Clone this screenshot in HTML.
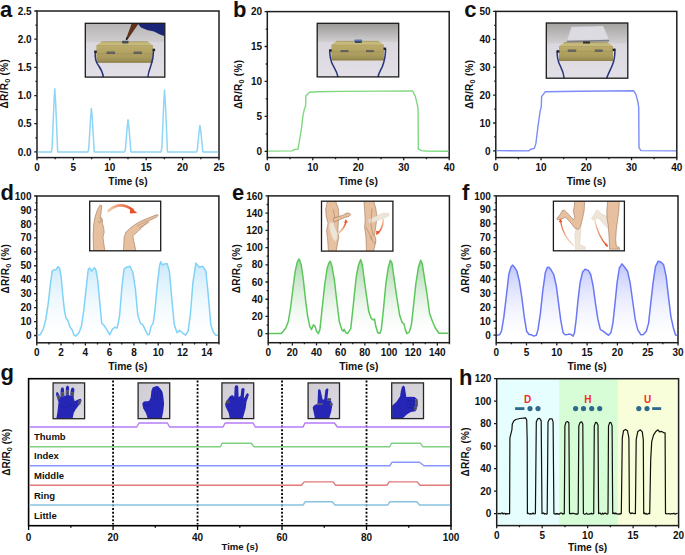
<!DOCTYPE html>
<html><head><meta charset="utf-8"><title>figure</title>
<style>
html,body{margin:0;padding:0;background:#fff;}
svg{display:block;}
text{font-family:"Liberation Sans",sans-serif;font-weight:bold;fill:#111;}
</style></head>
<body>
<svg width="685" height="555" viewBox="0 0 685 555">
<defs>
<linearGradient id="gd" x1="0" y1="0" x2="0" y2="1"><stop offset="0" stop-color="#c9e9fb"/><stop offset="1" stop-color="#ffffff" stop-opacity="0.3"/></linearGradient>
<linearGradient id="ge" x1="0" y1="0" x2="0" y2="1"><stop offset="0" stop-color="#a9d6a9"/><stop offset="1" stop-color="#ffffff" stop-opacity="0.3"/></linearGradient>
<linearGradient id="gf" x1="0" y1="0" x2="0" y2="1"><stop offset="0" stop-color="#bcc3fa"/><stop offset="1" stop-color="#ffffff" stop-opacity="0.3"/></linearGradient>
<linearGradient id="bgGray" x1="0" y1="0" x2="0" y2="1"><stop offset="0" stop-color="#c4c4c6"/><stop offset="0.45" stop-color="#dadadd"/><stop offset="1" stop-color="#e6e6ea"/></linearGradient>
<linearGradient id="gloveBg" x1="0" y1="0" x2="1" y2="1"><stop offset="0" stop-color="#cfcdd3"/><stop offset="1" stop-color="#dedce2"/></linearGradient>
<linearGradient id="woodG" x1="0" y1="0" x2="0" y2="1"><stop offset="0" stop-color="#bbac6a"/><stop offset="0.6" stop-color="#ad9e5e"/><stop offset="1" stop-color="#978952"/></linearGradient>
<linearGradient id="arrowG" x1="0" y1="0" x2="1" y2="0"><stop offset="0" stop-color="#f3c9a8"/><stop offset="1" stop-color="#e8552e"/></linearGradient>
</defs>
<rect width="685" height="555" fill="#fff"/>
<rect x="37" y="11" width="182" height="146.6" fill="none" stroke="#1e1e1e" stroke-width="1.5"/>
<path d="M37 157.6v2.7 M73.4 157.6v2.7 M109.8 157.6v2.7 M146.2 157.6v2.7 M182.6 157.6v2.7 M219 157.6v2.7 M55.2 157.6v1.6 M91.6 157.6v1.6 M128 157.6v1.6 M164.4 157.6v1.6 M200.8 157.6v1.6 M37 151.9h-2.7 M37 123.72h-2.7 M37 95.54h-2.7 M37 67.36h-2.7 M37 39.18h-2.7 M37 11h-2.7 M37 137.81h-1.6 M37 109.63h-1.6 M37 81.45h-1.6 M37 53.27h-1.6 M37 25.09h-1.6" stroke="#1e1e1e" stroke-width="1.3" fill="none"/>
<text x="37" y="170.8" text-anchor="middle" font-size="10" >0</text>
<text x="73.4" y="170.8" text-anchor="middle" font-size="10" >5</text>
<text x="109.8" y="170.8" text-anchor="middle" font-size="10" >10</text>
<text x="146.2" y="170.8" text-anchor="middle" font-size="10" >15</text>
<text x="182.6" y="170.8" text-anchor="middle" font-size="10" >20</text>
<text x="219" y="170.8" text-anchor="middle" font-size="10" >25</text>
<text x="31.7" y="155.5" text-anchor="end" font-size="10" >0.0</text>
<text x="31.7" y="127.32" text-anchor="end" font-size="10" >0.5</text>
<text x="31.7" y="99.14" text-anchor="end" font-size="10" >1.0</text>
<text x="31.7" y="70.96" text-anchor="end" font-size="10" >1.5</text>
<text x="31.7" y="42.78" text-anchor="end" font-size="10" >2.0</text>
<text x="31.7" y="14.6" text-anchor="end" font-size="10" >2.5</text>
<path d="M37.8 151.9 L51.34 151.9 L52.14 146.85 L53.89 104.56 L54.76 88.78 L55.64 102.66 L57.68 151.9 L87.96 151.9 L88.76 148.43 L90.51 119.35 L91.38 108.5 L92.26 118.05 L94.29 151.9 L124.58 151.9 L125.38 149.33 L127.13 127.81 L128 119.77 L128.87 126.84 L130.91 151.9 L161.12 151.9 L161.92 146.94 L163.67 105.4 L164.55 89.9 L165.42 103.54 L167.46 151.9 L196.5 151.9 L197.31 149.78 L199.05 132.03 L199.93 125.41 L200.8 131.24 L202.84 151.9 L218.2 151.9" fill="none" stroke="#8fd5f6" stroke-width="1.5" stroke-linejoin="round"/>
<text x="128" y="184.5" text-anchor="middle" font-size="10.3" >Time (s)</text>
<text transform="translate(7.9,83.7) rotate(-90)" text-anchor="middle" font-size="10" letter-spacing="0.3">&#916;R/R<tspan font-size="7.2" dy="2">0</tspan><tspan dy="-2"> (%)</tspan></text>
<text x="0" y="17" font-size="22">a</text>
<rect x="267.3" y="11.6" width="181.9" height="146" fill="none" stroke="#1e1e1e" stroke-width="1.5"/>
<path d="M267.3 157.6v2.7 M312.77 157.6v2.7 M358.25 157.6v2.7 M403.73 157.6v2.7 M449.2 157.6v2.7 M290.04 157.6v1.6 M335.51 157.6v1.6 M380.99 157.6v1.6 M426.46 157.6v1.6 M267.3 151.3h-2.7 M267.3 116.38h-2.7 M267.3 81.45h-2.7 M267.3 46.52h-2.7 M267.3 11.6h-2.7 M267.3 133.84h-1.6 M267.3 98.91h-1.6 M267.3 63.99h-1.6 M267.3 29.06h-1.6" stroke="#1e1e1e" stroke-width="1.3" fill="none"/>
<text x="267.3" y="170.8" text-anchor="middle" font-size="10" >0</text>
<text x="312.77" y="170.8" text-anchor="middle" font-size="10" >10</text>
<text x="358.25" y="170.8" text-anchor="middle" font-size="10" >20</text>
<text x="403.73" y="170.8" text-anchor="middle" font-size="10" >30</text>
<text x="449.2" y="170.8" text-anchor="middle" font-size="10" >40</text>
<text x="262" y="154.9" text-anchor="end" font-size="10" >0</text>
<text x="262" y="119.97" text-anchor="end" font-size="10" >5</text>
<text x="262" y="85.05" text-anchor="end" font-size="10" >10</text>
<text x="262" y="50.12" text-anchor="end" font-size="10" >15</text>
<text x="262" y="15.2" text-anchor="end" font-size="10" >20</text>
<path d="M268.1 151.1 L292.2 150.9 L294.4 149.5 L298 149.2 L299.5 140.5 L301.6 127.6 L303.1 114.6 L304.5 108.8 L305.6 105.9 L305.9 95.9 L309.5 92.2 L317.5 91.8 L340 91.4 L380 91.1 L412.6 91 L415.2 95.9 L417.3 104.5 L418.1 108.8 L418.3 149.2 L421.7 150.6 L426 151 L448.4 151.2" fill="none" stroke="#7fd87f" stroke-width="1.4" stroke-linejoin="round"/>
<text x="358.25" y="184.5" text-anchor="middle" font-size="10.3" >Time (s)</text>
<text transform="translate(241.8,84.4) rotate(-90)" text-anchor="middle" font-size="10" letter-spacing="0.3">&#916;R/R<tspan font-size="7.2" dy="2">0</tspan><tspan dy="-2"> (%)</tspan></text>
<text x="233" y="17" font-size="22">b</text>
<rect x="495.8" y="11.4" width="181" height="146.2" fill="none" stroke="#1e1e1e" stroke-width="1.5"/>
<path d="M495.8 157.6v2.7 M541.05 157.6v2.7 M586.3 157.6v2.7 M631.55 157.6v2.7 M676.8 157.6v2.7 M518.42 157.6v1.6 M563.67 157.6v1.6 M608.92 157.6v1.6 M654.17 157.6v1.6 M495.8 150.9h-2.7 M495.8 123h-2.7 M495.8 95.1h-2.7 M495.8 67.2h-2.7 M495.8 39.3h-2.7 M495.8 11.4h-2.7 M495.8 136.95h-1.6 M495.8 109.05h-1.6 M495.8 81.15h-1.6 M495.8 53.25h-1.6 M495.8 25.35h-1.6" stroke="#1e1e1e" stroke-width="1.3" fill="none"/>
<text x="495.8" y="170.8" text-anchor="middle" font-size="10" >0</text>
<text x="541.05" y="170.8" text-anchor="middle" font-size="10" >10</text>
<text x="586.3" y="170.8" text-anchor="middle" font-size="10" >20</text>
<text x="631.55" y="170.8" text-anchor="middle" font-size="10" >30</text>
<text x="676.8" y="170.8" text-anchor="middle" font-size="10" >40</text>
<text x="490.5" y="154.5" text-anchor="end" font-size="10" >0</text>
<text x="490.5" y="126.6" text-anchor="end" font-size="10" >10</text>
<text x="490.5" y="98.7" text-anchor="end" font-size="10" >20</text>
<text x="490.5" y="70.8" text-anchor="end" font-size="10" >30</text>
<text x="490.5" y="42.9" text-anchor="end" font-size="10" >40</text>
<text x="490.5" y="15" text-anchor="end" font-size="10" >50</text>
<path d="M496.6 150.6 L528.6 150.9 L530.8 149.2 L534.4 148.4 L535.9 143.4 L538 126.1 L540.2 111 L541.3 106.7 L541.6 96.6 L545.2 91.8 L580 91.2 L633.7 90.8 L635.9 94.4 L638 102.3 L638.7 107.4 L639 147.7 L640.9 150.6 L676 150.9" fill="none" stroke="#7c8cf8" stroke-width="1.4" stroke-linejoin="round"/>
<text x="586.3" y="184.5" text-anchor="middle" font-size="10.3" >Time (s)</text>
<text transform="translate(472.7,84.3) rotate(-90)" text-anchor="middle" font-size="10" letter-spacing="0.3">&#916;R/R<tspan font-size="7.2" dy="2">0</tspan><tspan dy="-2"> (%)</tspan></text>
<text x="464.2" y="17" font-size="22">c</text>
<rect x="36.8" y="196" width="182.1" height="146.8" fill="none" stroke="#1e1e1e" stroke-width="1.5"/>
<path d="M36.8 342.8v2.7 M61.08 342.8v2.7 M85.36 342.8v2.7 M109.64 342.8v2.7 M133.92 342.8v2.7 M158.2 342.8v2.7 M182.48 342.8v2.7 M206.76 342.8v2.7 M48.94 342.8v1.6 M73.22 342.8v1.6 M97.5 342.8v1.6 M121.78 342.8v1.6 M146.06 342.8v1.6 M170.34 342.8v1.6 M194.62 342.8v1.6 M218.9 342.8v1.6 M36.8 335.5h-2.7 M36.8 321.55h-2.7 M36.8 307.6h-2.7 M36.8 293.65h-2.7 M36.8 279.7h-2.7 M36.8 265.75h-2.7 M36.8 251.8h-2.7 M36.8 237.85h-2.7 M36.8 223.9h-2.7 M36.8 209.95h-2.7 M36.8 196h-2.7 M36.8 328.52h-1.6 M36.8 314.57h-1.6 M36.8 300.62h-1.6 M36.8 286.68h-1.6 M36.8 272.73h-1.6 M36.8 258.77h-1.6 M36.8 244.82h-1.6 M36.8 230.88h-1.6 M36.8 216.93h-1.6 M36.8 202.97h-1.6" stroke="#1e1e1e" stroke-width="1.3" fill="none"/>
<text x="36.8" y="356" text-anchor="middle" font-size="10" >0</text>
<text x="61.08" y="356" text-anchor="middle" font-size="10" >2</text>
<text x="85.36" y="356" text-anchor="middle" font-size="10" >4</text>
<text x="109.64" y="356" text-anchor="middle" font-size="10" >6</text>
<text x="133.92" y="356" text-anchor="middle" font-size="10" >8</text>
<text x="158.2" y="356" text-anchor="middle" font-size="10" >10</text>
<text x="182.48" y="356" text-anchor="middle" font-size="10" >12</text>
<text x="206.76" y="356" text-anchor="middle" font-size="10" >14</text>
<text x="31.5" y="339.1" text-anchor="end" font-size="10" >0</text>
<text x="31.5" y="325.15" text-anchor="end" font-size="10" >10</text>
<text x="31.5" y="311.2" text-anchor="end" font-size="10" >20</text>
<text x="31.5" y="297.25" text-anchor="end" font-size="10" >30</text>
<text x="31.5" y="283.3" text-anchor="end" font-size="10" >40</text>
<text x="31.5" y="269.35" text-anchor="end" font-size="10" >50</text>
<text x="31.5" y="255.4" text-anchor="end" font-size="10" >60</text>
<text x="31.5" y="241.45" text-anchor="end" font-size="10" >70</text>
<text x="31.5" y="227.5" text-anchor="end" font-size="10" >80</text>
<text x="31.5" y="213.55" text-anchor="end" font-size="10" >90</text>
<text x="31.5" y="199.6" text-anchor="end" font-size="10" >100</text>
<path d="M37.6 335.3 L40.1 334.8 L43.3 328.8 L45.7 319.9 L48.2 303.6 L50.6 282.6 L52.2 271.2 L53.8 269.9 L56.3 269.6 L57.9 266.7 L59.5 268 L61.1 276.1 L62.8 295.5 L64.4 310.1 L66 318.2 L67.6 319.9 L70.1 327.2 L72 329.6 L74.1 335.3 L75.7 336.1 L79 332.8 L81.4 326.3 L83.8 310.1 L86.3 287.4 L88.2 269.6 L89.5 268 L91.5 271.2 L94.4 267.6 L96 270.4 L97.6 279.3 L99.6 300.4 L101.7 323.1 L104.1 325.5 L107.3 330.4 L109.8 334.8 L112.2 329.6 L114.6 327.2 L117.1 328 L119.5 316.6 L121.9 287.4 L124 269 L126.5 267.2 L128.1 266.7 L130 266.3 L133 272.8 L135.4 289 L137.8 315 L140.3 323.1 L142.7 324.7 L145.1 329.6 L147.6 334.7 L149.2 334.4 L151.1 326.3 L153.2 323.1 L154.8 311.7 L157.3 284.2 L159.7 264.7 L160.8 261.8 L162.5 265 L164.6 263.9 L167 263.4 L169.4 271.2 L171.9 300.4 L174.3 324.7 L177.1 332.8 L179.6 330.4 L182.4 332.8 L185.6 335.2 L188.1 331.2 L190.5 313.3 L192.9 282.6 L195.9 263.1 L197.8 265.5 L199.4 267.2 L202.7 266.3 L205.9 271.2 L208.3 295.5 L210.8 324.7 L213.2 332 L215.9 335.2 L218.1 335.2 L218.1 335.5 L37.6 335.5 Z" fill="url(#gd)" stroke="none"/>
<path d="M37.6 335.3 L40.1 334.8 L43.3 328.8 L45.7 319.9 L48.2 303.6 L50.6 282.6 L52.2 271.2 L53.8 269.9 L56.3 269.6 L57.9 266.7 L59.5 268 L61.1 276.1 L62.8 295.5 L64.4 310.1 L66 318.2 L67.6 319.9 L70.1 327.2 L72 329.6 L74.1 335.3 L75.7 336.1 L79 332.8 L81.4 326.3 L83.8 310.1 L86.3 287.4 L88.2 269.6 L89.5 268 L91.5 271.2 L94.4 267.6 L96 270.4 L97.6 279.3 L99.6 300.4 L101.7 323.1 L104.1 325.5 L107.3 330.4 L109.8 334.8 L112.2 329.6 L114.6 327.2 L117.1 328 L119.5 316.6 L121.9 287.4 L124 269 L126.5 267.2 L128.1 266.7 L130 266.3 L133 272.8 L135.4 289 L137.8 315 L140.3 323.1 L142.7 324.7 L145.1 329.6 L147.6 334.7 L149.2 334.4 L151.1 326.3 L153.2 323.1 L154.8 311.7 L157.3 284.2 L159.7 264.7 L160.8 261.8 L162.5 265 L164.6 263.9 L167 263.4 L169.4 271.2 L171.9 300.4 L174.3 324.7 L177.1 332.8 L179.6 330.4 L182.4 332.8 L185.6 335.2 L188.1 331.2 L190.5 313.3 L192.9 282.6 L195.9 263.1 L197.8 265.5 L199.4 267.2 L202.7 266.3 L205.9 271.2 L208.3 295.5 L210.8 324.7 L213.2 332 L215.9 335.2 L218.1 335.2" fill="none" stroke="#80d2f8" stroke-width="1.5" stroke-linejoin="round"/>
<text x="127.85" y="370.2" text-anchor="middle" font-size="10.3" >Time (s)</text>
<text transform="translate(8.9,268.7) rotate(-90)" text-anchor="middle" font-size="10" letter-spacing="0.3">&#916;R/R<tspan font-size="7.2" dy="2">0</tspan><tspan dy="-2"> (%)</tspan></text>
<text x="0.5" y="200" font-size="22">d</text>
<rect x="268.2" y="195.9" width="181.2" height="146.8" fill="none" stroke="#1e1e1e" stroke-width="1.5"/>
<path d="M268.2 342.7v2.7 M292.36 342.7v2.7 M316.52 342.7v2.7 M340.68 342.7v2.7 M364.84 342.7v2.7 M389 342.7v2.7 M413.16 342.7v2.7 M437.32 342.7v2.7 M280.28 342.7v1.6 M304.44 342.7v1.6 M328.6 342.7v1.6 M352.76 342.7v1.6 M376.92 342.7v1.6 M401.08 342.7v1.6 M425.24 342.7v1.6 M449.4 342.7v1.6 M268.2 333.7h-2.7 M268.2 316.47h-2.7 M268.2 299.25h-2.7 M268.2 282.02h-2.7 M268.2 264.8h-2.7 M268.2 247.57h-2.7 M268.2 230.35h-2.7 M268.2 213.12h-2.7 M268.2 195.9h-2.7 M268.2 325.09h-1.6 M268.2 307.86h-1.6 M268.2 290.64h-1.6 M268.2 273.41h-1.6 M268.2 256.19h-1.6 M268.2 238.96h-1.6 M268.2 221.74h-1.6 M268.2 204.51h-1.6" stroke="#1e1e1e" stroke-width="1.3" fill="none"/>
<text x="268.2" y="355.9" text-anchor="middle" font-size="10" >0</text>
<text x="292.36" y="355.9" text-anchor="middle" font-size="10" >20</text>
<text x="316.52" y="355.9" text-anchor="middle" font-size="10" >40</text>
<text x="340.68" y="355.9" text-anchor="middle" font-size="10" >60</text>
<text x="364.84" y="355.9" text-anchor="middle" font-size="10" >80</text>
<text x="389" y="355.9" text-anchor="middle" font-size="10" >100</text>
<text x="413.16" y="355.9" text-anchor="middle" font-size="10" >120</text>
<text x="437.32" y="355.9" text-anchor="middle" font-size="10" >140</text>
<text x="262.9" y="337.3" text-anchor="end" font-size="10" >0</text>
<text x="262.9" y="320.07" text-anchor="end" font-size="10" >20</text>
<text x="262.9" y="302.85" text-anchor="end" font-size="10" >40</text>
<text x="262.9" y="285.62" text-anchor="end" font-size="10" >60</text>
<text x="262.9" y="268.4" text-anchor="end" font-size="10" >80</text>
<text x="262.9" y="251.17" text-anchor="end" font-size="10" >100</text>
<text x="262.9" y="233.95" text-anchor="end" font-size="10" >120</text>
<text x="262.9" y="216.72" text-anchor="end" font-size="10" >140</text>
<text x="262.9" y="199.5" text-anchor="end" font-size="10" >160</text>
<path d="M268.9 333.6 L281 333.6 L283.4 331.2 L285.8 328 L288.3 321.5 L290.7 306.9 L293.1 287.4 L295.2 271.2 L297.2 262.3 L298.8 259.1 L299.6 259.9 L301.2 264.7 L303.3 279.3 L305.6 300.4 L307.7 316.6 L309.8 326.3 L311.5 329.6 L313.4 324.7 L315 326.3 L316.6 331.2 L318.3 333.6 L319.9 329.6 L322.3 306.9 L324.8 284.2 L327.2 268 L329.3 262.3 L330.4 261.2 L332 266.4 L334.5 280.9 L336.9 302 L339.3 321.5 L341.8 329.6 L343.4 331.2 L344.2 329.3 L345.8 332.8 L347.5 333.6 L349.1 331.2 L350.7 328.8 L353.1 306.9 L355.6 282.6 L356.6 274.5 L358.6 264.7 L360.7 259.5 L362.3 264.7 L364.4 280.9 L366.7 297.2 L368.8 311.8 L371.2 318.2 L373.2 319.9 L374.5 319 L375.8 326.3 L377.7 332.5 L379.8 333.5 L381.3 329.6 L383.4 310.1 L385.8 284.2 L388.2 268 L390.3 260.2 L392 263.1 L394.2 279.3 L396.8 297.2 L399.6 315 L402 322.3 L404 323.9 L405.3 329.6 L406.9 333.6 L409.3 332 L411.4 324.7 L413.4 306.9 L415.8 284.2 L418.6 266.4 L420.7 260.2 L422.3 263.9 L424.7 279.3 L427.2 295.5 L429.6 313.4 L432.5 321.5 L435.3 328 L439 333.3 L448.6 333.3 L448.6 333.7 L268.9 333.7 Z" fill="url(#ge)" stroke="none"/>
<path d="M268.9 333.6 L281 333.6 L283.4 331.2 L285.8 328 L288.3 321.5 L290.7 306.9 L293.1 287.4 L295.2 271.2 L297.2 262.3 L298.8 259.1 L299.6 259.9 L301.2 264.7 L303.3 279.3 L305.6 300.4 L307.7 316.6 L309.8 326.3 L311.5 329.6 L313.4 324.7 L315 326.3 L316.6 331.2 L318.3 333.6 L319.9 329.6 L322.3 306.9 L324.8 284.2 L327.2 268 L329.3 262.3 L330.4 261.2 L332 266.4 L334.5 280.9 L336.9 302 L339.3 321.5 L341.8 329.6 L343.4 331.2 L344.2 329.3 L345.8 332.8 L347.5 333.6 L349.1 331.2 L350.7 328.8 L353.1 306.9 L355.6 282.6 L356.6 274.5 L358.6 264.7 L360.7 259.5 L362.3 264.7 L364.4 280.9 L366.7 297.2 L368.8 311.8 L371.2 318.2 L373.2 319.9 L374.5 319 L375.8 326.3 L377.7 332.5 L379.8 333.5 L381.3 329.6 L383.4 310.1 L385.8 284.2 L388.2 268 L390.3 260.2 L392 263.1 L394.2 279.3 L396.8 297.2 L399.6 315 L402 322.3 L404 323.9 L405.3 329.6 L406.9 333.6 L409.3 332 L411.4 324.7 L413.4 306.9 L415.8 284.2 L418.6 266.4 L420.7 260.2 L422.3 263.9 L424.7 279.3 L427.2 295.5 L429.6 313.4 L432.5 321.5 L435.3 328 L439 333.3 L448.6 333.3" fill="none" stroke="#5cc75c" stroke-width="1.5" stroke-linejoin="round"/>
<text x="358.8" y="370.2" text-anchor="middle" font-size="10.3" >Time (s)</text>
<text transform="translate(240.2,268.6) rotate(-90)" text-anchor="middle" font-size="10" letter-spacing="0.3">&#916;R/R<tspan font-size="7.2" dy="2">0</tspan><tspan dy="-2"> (%)</tspan></text>
<text x="232" y="200" font-size="22">e</text>
<rect x="496.2" y="195.9" width="181.8" height="146.8" fill="none" stroke="#1e1e1e" stroke-width="1.5"/>
<path d="M496.2 342.7v2.7 M526.5 342.7v2.7 M556.8 342.7v2.7 M587.1 342.7v2.7 M617.4 342.7v2.7 M647.7 342.7v2.7 M678 342.7v2.7 M511.35 342.7v1.6 M541.65 342.7v1.6 M571.95 342.7v1.6 M602.25 342.7v1.6 M632.55 342.7v1.6 M662.85 342.7v1.6 M496.2 335.2h-2.7 M496.2 321.27h-2.7 M496.2 307.34h-2.7 M496.2 293.41h-2.7 M496.2 279.48h-2.7 M496.2 265.55h-2.7 M496.2 251.62h-2.7 M496.2 237.69h-2.7 M496.2 223.76h-2.7 M496.2 209.83h-2.7 M496.2 195.9h-2.7 M496.2 328.24h-1.6 M496.2 314.31h-1.6 M496.2 300.38h-1.6 M496.2 286.44h-1.6 M496.2 272.51h-1.6 M496.2 258.58h-1.6 M496.2 244.66h-1.6 M496.2 230.73h-1.6 M496.2 216.8h-1.6 M496.2 202.87h-1.6" stroke="#1e1e1e" stroke-width="1.3" fill="none"/>
<text x="496.2" y="355.9" text-anchor="middle" font-size="10" >0</text>
<text x="526.5" y="355.9" text-anchor="middle" font-size="10" >5</text>
<text x="556.8" y="355.9" text-anchor="middle" font-size="10" >10</text>
<text x="587.1" y="355.9" text-anchor="middle" font-size="10" >15</text>
<text x="617.4" y="355.9" text-anchor="middle" font-size="10" >20</text>
<text x="647.7" y="355.9" text-anchor="middle" font-size="10" >25</text>
<text x="678" y="355.9" text-anchor="middle" font-size="10" >30</text>
<text x="490.9" y="338.8" text-anchor="end" font-size="10" >0</text>
<text x="490.9" y="324.87" text-anchor="end" font-size="10" >10</text>
<text x="490.9" y="310.94" text-anchor="end" font-size="10" >20</text>
<text x="490.9" y="297.01" text-anchor="end" font-size="10" >30</text>
<text x="490.9" y="283.08" text-anchor="end" font-size="10" >40</text>
<text x="490.9" y="269.15" text-anchor="end" font-size="10" >50</text>
<text x="490.9" y="255.22" text-anchor="end" font-size="10" >60</text>
<text x="490.9" y="241.29" text-anchor="end" font-size="10" >70</text>
<text x="490.9" y="227.36" text-anchor="end" font-size="10" >80</text>
<text x="490.9" y="213.43" text-anchor="end" font-size="10" >90</text>
<text x="490.9" y="199.5" text-anchor="end" font-size="10" >100</text>
<path d="M496.9 335.3 L499.5 334.8 L501.5 331.2 L503.9 316.6 L506.4 295.5 L508.8 274.5 L510.9 267.2 L512.5 265.1 L514.5 267.2 L516.9 271.2 L519.3 280.9 L521.8 297.2 L524.2 316.6 L526.6 331.2 L529.1 334.5 L531.5 334.8 L533.9 336.1 L536.3 335.3 L538 329.6 L540.4 313.4 L542.8 290.7 L545.3 272.8 L547.2 267.6 L548.8 267.2 L550.9 269.6 L553.7 274.5 L556.3 285.8 L558.6 303.6 L560.7 319.9 L563.1 332.8 L565.1 334.8 L567.2 334.5 L569.6 334.1 L571.5 334.8 L573.2 336.1 L574.5 332.8 L576.1 319.9 L578 300.4 L580.1 282.6 L582.6 272 L585 269.3 L588.2 270.4 L590.7 274.5 L593.1 285.8 L595.5 303.6 L598 319.9 L600.4 329.6 L602.8 330.9 L605.3 332.8 L608.5 335.3 L610.9 332.8 L612.9 323.1 L615 303.6 L617.1 282.6 L619.4 268 L622 263.9 L624.7 267.2 L627.5 271.2 L630.1 282.6 L632.8 302 L635.3 319.9 L637.7 329.6 L640.9 334.8 L643.4 334.5 L646.3 331.2 L648.6 323.1 L650.7 303.6 L653.1 282.6 L655.5 266.4 L658.3 261.2 L661.2 262.3 L663.6 264.7 L666.1 276.1 L668.5 297.2 L670.9 316.6 L673.4 328 L675.5 335 L677.3 335.3 L677.3 335.2 L496.9 335.2 Z" fill="url(#gf)" stroke="none"/>
<path d="M496.9 335.3 L499.5 334.8 L501.5 331.2 L503.9 316.6 L506.4 295.5 L508.8 274.5 L510.9 267.2 L512.5 265.1 L514.5 267.2 L516.9 271.2 L519.3 280.9 L521.8 297.2 L524.2 316.6 L526.6 331.2 L529.1 334.5 L531.5 334.8 L533.9 336.1 L536.3 335.3 L538 329.6 L540.4 313.4 L542.8 290.7 L545.3 272.8 L547.2 267.6 L548.8 267.2 L550.9 269.6 L553.7 274.5 L556.3 285.8 L558.6 303.6 L560.7 319.9 L563.1 332.8 L565.1 334.8 L567.2 334.5 L569.6 334.1 L571.5 334.8 L573.2 336.1 L574.5 332.8 L576.1 319.9 L578 300.4 L580.1 282.6 L582.6 272 L585 269.3 L588.2 270.4 L590.7 274.5 L593.1 285.8 L595.5 303.6 L598 319.9 L600.4 329.6 L602.8 330.9 L605.3 332.8 L608.5 335.3 L610.9 332.8 L612.9 323.1 L615 303.6 L617.1 282.6 L619.4 268 L622 263.9 L624.7 267.2 L627.5 271.2 L630.1 282.6 L632.8 302 L635.3 319.9 L637.7 329.6 L640.9 334.8 L643.4 334.5 L646.3 331.2 L648.6 323.1 L650.7 303.6 L653.1 282.6 L655.5 266.4 L658.3 261.2 L661.2 262.3 L663.6 264.7 L666.1 276.1 L668.5 297.2 L670.9 316.6 L673.4 328 L675.5 335 L677.3 335.3" fill="none" stroke="#6a78f6" stroke-width="1.5" stroke-linejoin="round"/>
<text x="587.1" y="370.2" text-anchor="middle" font-size="10.3" >Time (s)</text>
<text transform="translate(468.8,268.6) rotate(-90)" text-anchor="middle" font-size="10" letter-spacing="0.3">&#916;R/R<tspan font-size="7.2" dy="2">0</tspan><tspan dy="-2"> (%)</tspan></text>
<text x="462" y="200" font-size="22">f</text>
<rect x="28.6" y="378.7" width="422.4" height="147" fill="none" stroke="#000" stroke-width="1.6"/>
<path d="M28.6 525.7v4.2 M113.08 525.7v4.2 M197.56 525.7v4.2 M282.04 525.7v4.2 M366.52 525.7v4.2 M451 525.7v4.2 M70.84 525.7v2 M155.32 525.7v2 M239.8 525.7v2 M324.28 525.7v2 M408.76 525.7v2" stroke="#000" stroke-width="1.3"/>
<text x="28.6" y="541" text-anchor="middle" font-size="10" >0</text>
<text x="113.08" y="541" text-anchor="middle" font-size="10" >20</text>
<text x="197.56" y="541" text-anchor="middle" font-size="10" >40</text>
<text x="282.04" y="541" text-anchor="middle" font-size="10" >60</text>
<text x="366.52" y="541" text-anchor="middle" font-size="10" >80</text>
<text x="451" y="541" text-anchor="middle" font-size="10" >100</text>
<line x1="113.08" y1="380.6" x2="113.08" y2="524.5" stroke="#000" stroke-width="1.8" stroke-dasharray="1.9 1.85"/>
<line x1="197.56" y1="380.6" x2="197.56" y2="524.5" stroke="#000" stroke-width="1.8" stroke-dasharray="1.9 1.85"/>
<line x1="282.04" y1="380.6" x2="282.04" y2="524.5" stroke="#000" stroke-width="1.8" stroke-dasharray="1.9 1.85"/>
<line x1="366.52" y1="380.6" x2="366.52" y2="524.5" stroke="#000" stroke-width="1.8" stroke-dasharray="1.9 1.85"/>
<path d="M29.4 427 L136.8 427 L139 423 L167.4 423 L169.6 427 L223 427 L225.1 423 L253.1 423 L255.2 427 L303.1 427 L304.9 423 L334.5 423 L337.3 427 L450.2 427" fill="none" stroke="#b57bf7" stroke-width="1.4" stroke-linejoin="round"/>
<path d="M29.4 446.7 L220.6 446.7 L222.1 443.2 L251.3 443.2 L254 446.7 L389.7 446.7 L391.5 443.2 L420.4 443.2 L422.7 446.7 L450.2 446.7" fill="none" stroke="#80cf80" stroke-width="1.4" stroke-linejoin="round"/>
<path d="M29.4 465.8 L389.7 465.8 L392.1 462.2 L419.5 462.2 L424 465.8 L450.2 465.8" fill="none" stroke="#8896ff" stroke-width="1.4" stroke-linejoin="round"/>
<path d="M29.4 485.2 L301.3 485.2 L304.3 481.9 L333.2 481.9 L335.5 485.2 L387 485.2 L389.2 481.9 L417.3 481.9 L419.8 485.2 L450.2 485.2" fill="none" stroke="#e27878" stroke-width="1.4" stroke-linejoin="round"/>
<path d="M29.4 505 L303.1 505 L305.2 501.8 L332.3 501.8 L335 505 L387.9 505 L389.7 501.8 L416.8 501.8 L419.5 505 L450.2 505" fill="none" stroke="#88c2de" stroke-width="1.4" stroke-linejoin="round"/>
<text x="34" y="439.7" text-anchor="start" font-size="9.5" >Thumb</text>
<text x="34" y="459.1" text-anchor="start" font-size="9.5" >Index</text>
<text x="34" y="479" text-anchor="start" font-size="9.5" >Middle</text>
<text x="34" y="498.8" text-anchor="start" font-size="9.5" >Ring</text>
<text x="34" y="518.7" text-anchor="start" font-size="9.5" >Little</text>
<text x="239.8" y="549.7" text-anchor="middle" font-size="9.6" >Time (s)</text>
<text transform="translate(10.1,452.2) rotate(-90)" text-anchor="middle" font-size="10" letter-spacing="0.05">&#916;R/R<tspan font-size="7.2" dy="2">0</tspan><tspan dy="-2"> (%)</tspan></text>
<text x="0.5" y="380" font-size="22">g</text>
<rect x="496.7" y="378.7" width="62.4" height="146.9" fill="#e7fefe"/>
<rect x="559.1" y="378.7" width="58.8" height="146.9" fill="#d7fdd7"/>
<rect x="617.9" y="378.7" width="60.7" height="146.9" fill="#f8fed9"/>
<rect x="496.7" y="378.7" width="181.9" height="146.9" fill="none" stroke="#1e1e1e" stroke-width="1.5"/>
<path d="M496.7 525.6v2.7 M542.17 525.6v2.7 M587.65 525.6v2.7 M633.12 525.6v2.7 M678.6 525.6v2.7 M519.44 525.6v1.6 M564.91 525.6v1.6 M610.39 525.6v1.6 M655.86 525.6v1.6 M496.7 513.7h-2.7 M496.7 491.2h-2.7 M496.7 468.7h-2.7 M496.7 446.2h-2.7 M496.7 423.7h-2.7 M496.7 401.2h-2.7 M496.7 378.7h-2.7 M496.7 513.7h-1.6 M496.7 491.2h-1.6 M496.7 468.7h-1.6 M496.7 446.2h-1.6 M496.7 423.7h-1.6 M496.7 401.2h-1.6 M496.7 378.7h-1.6" stroke="#1e1e1e" stroke-width="1.3" fill="none"/>
<text x="496.7" y="538.8" text-anchor="middle" font-size="10" >0</text>
<text x="542.17" y="538.8" text-anchor="middle" font-size="10" >5</text>
<text x="587.65" y="538.8" text-anchor="middle" font-size="10" >10</text>
<text x="633.12" y="538.8" text-anchor="middle" font-size="10" >15</text>
<text x="678.6" y="538.8" text-anchor="middle" font-size="10" >20</text>
<text x="491.4" y="517.3" text-anchor="end" font-size="10" >0</text>
<text x="491.4" y="494.8" text-anchor="end" font-size="10" >20</text>
<text x="491.4" y="472.3" text-anchor="end" font-size="10" >40</text>
<text x="491.4" y="449.8" text-anchor="end" font-size="10" >60</text>
<text x="491.4" y="427.3" text-anchor="end" font-size="10" >80</text>
<text x="491.4" y="404.8" text-anchor="end" font-size="10" >100</text>
<text x="491.4" y="382.3" text-anchor="end" font-size="10" >120</text>
<text x="527.7" y="402.8" text-anchor="middle" font-size="10" style="fill:#f52a1e">D</text>
<text x="587.8" y="402.8" text-anchor="middle" font-size="10" style="fill:#f52a1e">H</text>
<text x="647.7" y="402.8" text-anchor="middle" font-size="10" style="fill:#f52a1e">U</text>
<g fill="#2f6a8c" stroke="none">
<rect x="515.1" y="407.2" width="9.3" height="2.8"/>
<circle cx="530" cy="408.6" r="2.6"/>
<circle cx="538" cy="408.6" r="2.6"/>
<circle cx="575.6" cy="408.6" r="2.6"/>
<circle cx="583.5" cy="408.6" r="2.6"/>
<circle cx="591.7" cy="408.6" r="2.6"/>
<circle cx="599.7" cy="408.6" r="2.6"/>
<circle cx="638.8" cy="408.6" r="2.6"/>
<circle cx="647" cy="408.6" r="2.6"/>
<rect x="652.2" y="407.2" width="9.0" height="2.8"/>
</g>
<path d="M497.5 513.23 L498.3 513.66 L499.1 513.42 L499.9 513.75 L500.7 513.78 L501.5 512.99 L502.3 512.92 L503.1 514.07 L503.9 513.26 L504.7 513.23 L505.5 514.29 L506.3 513.56 L507.1 514.07 L507.9 513.57 L508.7 513.79 L509.6 513.6 L509.9 437.8 L510.9 433.8 L511.9 429.8 L512.3 423.9 L513.8 420.9 L515.8 419.5 L519.8 418.5 L525.7 417.9 L526.7 419.9 L527.2 440 L527.4 513.6 L528.2 513.11 L529 513.79 L529.8 514.12 L530.6 513.63 L531.4 513.94 L532.2 513.84 L533 512.99 L533.8 513.96 L534.6 513.73 L535.4 513.6 L536.3 421.9 L537.6 418.9 L539.6 418.3 L541.2 420.9 L542 513.6 L542.8 513.32 L543.6 512.94 L544.4 514.11 L545.2 513.56 L546 513.91 L546.8 514.13 L547.2 513.6 L548 421.9 L549.5 418.9 L552.1 418.9 L553.1 421.9 L553.9 513.6 L554.7 513.9 L555.5 514.19 L556.3 513.45 L557.1 514.02 L557.9 513.52 L558.7 514.21 L559.5 514.13 L560.3 513.04 L561.1 513.09 L561.9 513.2 L562.7 514.25 L563.5 513.51 L564.3 513.6 L564.9 425.9 L565.9 422.3 L567.5 421.5 L568.9 422.9 L569.5 513.6 L570.3 513.78 L571.1 513.32 L571.9 513.61 L572.7 513.44 L573.5 513.39 L574.3 513.72 L575.1 513.72 L575.9 514.17 L576.7 513.85 L577.5 514.2 L578.2 513.6 L578.8 425.9 L580.2 422.3 L581.8 421.9 L582.8 423.9 L583.4 513.6 L584.2 514.1 L585 514.29 L585.8 513.84 L586.6 513.13 L587.4 514.1 L588.2 514.25 L589 514.17 L589.8 513.7 L590.6 513.9 L591.4 513.2 L592.2 514.06 L593 513.7 L593.7 513.6 L594.3 425.9 L595.7 422.3 L597 422.9 L598 424.9 L598.6 513.6 L599.4 513.3 L600.2 512.99 L601 514.1 L601.8 514.29 L602.6 513.02 L603.4 514.02 L604.2 513.47 L605 513.11 L605.8 513.31 L606.6 513.98 L607.4 514.12 L608 513.6 L608.5 425.9 L609.9 422.3 L611.1 422.9 L612.1 425.9 L612.7 513.6 L613.5 512.96 L614.3 513.76 L615.1 512.96 L615.9 513.91 L616.7 513.36 L617.5 514.13 L618.3 514.27 L619.1 513.61 L619.9 514.3 L620.7 513.33 L621.3 513.6 L622.3 437.8 L623.5 430.8 L625.5 429.4 L627.5 430.8 L628.9 437.8 L629.4 512.1 L630.2 513.01 L631 513.74 L631.8 512.94 L632.6 513.18 L633.4 513.47 L634.2 513.75 L635 513.12 L635.4 513.6 L636.2 439.7 L637.8 431.4 L640.4 429.8 L642.3 431.8 L643.3 439.7 L643.7 513.6 L644.5 512.96 L645.3 514.11 L646.1 513.34 L646.9 514.24 L647.7 514.16 L648.5 513.43 L649.3 513.54 L649.7 513.6 L650.7 459.6 L651.7 441.7 L653.6 434.8 L655.6 431.8 L658 429.8 L659.6 431.8 L661.6 431.4 L664 432.8 L665.1 432.8 L665.5 513.6 L666.3 513.63 L667.1 513.8 L667.9 513.73 L668.7 513.68 L669.5 513.77 L670.3 514.22 L671.1 513.61 L671.9 513.5 L672.7 513.91 L673.5 513.23 L674.3 513.32 L675.1 514.27 L675.9 513.63 L676.7 513.67 L677.5 512.92" fill="none" stroke="#111" stroke-width="1.2" stroke-linejoin="round"/>
<text x="587.65" y="551.4" text-anchor="middle" font-size="10.3" >Time (s)</text>
<text transform="translate(468.9,451.85) rotate(-90)" text-anchor="middle" font-size="10" letter-spacing="0.3">&#916;R/R<tspan font-size="7.2" dy="2">0</tspan><tspan dy="-2"> (%)</tspan></text>
<text x="459" y="384.5" font-size="22">h</text>
<defs>
<filter id="soft" x="-5%" y="-5%" width="110%" height="110%"><feGaussianBlur stdDeviation="0.35"/></filter>
<linearGradient id="arrowG2" x1="0" y1="1" x2="0" y2="0"><stop offset="0" stop-color="#f6cfae"/><stop offset="1" stop-color="#e8552e"/></linearGradient>
<linearGradient id="arrowG3" x1="0" y1="0" x2="0" y2="1"><stop offset="0" stop-color="#f6cfae"/><stop offset="1" stop-color="#e8552e"/></linearGradient>
<linearGradient id="arrowG4" x1="0" y1="1" x2="0" y2="0"><stop offset="0" stop-color="#f8dcc3"/><stop offset="1" stop-color="#e8552e"/></linearGradient>
<linearGradient id="arrowG5" x1="0" y1="0" x2="0" y2="1"><stop offset="0" stop-color="#f8dcc3"/><stop offset="1" stop-color="#e8552e"/></linearGradient>
</defs>
<linearGradient id="bga" x1="0" y1="0" x2="0" y2="1"><stop offset="0" stop-color="#b6b4b3"/><stop offset="0.34" stop-color="#cfcdcf"/><stop offset="0.36" stop-color="#dad8de"/><stop offset="1" stop-color="#e2e0e6"/></linearGradient>
<clipPath id="bxa"><rect x="85.3" y="23.3" width="79.5" height="53.8"/></clipPath>
<g clip-path="url(#bxa)">
<rect x="85.3" y="23.3" width="79.5" height="53.8" fill="url(#bga)"/>
<g filter="url(#soft)">
<path d="M101.4 41.8 L147.9 41.8 L152.9 45.6 L96.4 45.6 Z" fill="#c6b97c"/>
<path d="M101.4 41.8 L147.9 41.8" stroke="#9c8e55" stroke-width="0.7"/>
<rect x="96.4" y="45.6" width="56.5" height="17" fill="url(#woodG)"/>
<rect x="96.4" y="45.3" width="56.5" height="0.7" fill="#a99b5d"/>
<rect x="96.4" y="61.6" width="56.5" height="1.0" fill="#8d7f47"/>
<line x1="96.4" y1="53.8" x2="152.9" y2="53.8" stroke="#9e8f55" stroke-width="0.6"/>
<rect x="106.9" y="51.9" width="7.9" height="1.9" fill="#66686c" stroke="#45474b" stroke-width="0.4"/>
<rect x="133.9" y="51.9" width="7.9" height="1.9" fill="#66686c" stroke="#45474b" stroke-width="0.4"/>
<path d="M95.3 52.7 C94.8 57.5 95.6 62 98.6 65.8 C101 69 102.8 72.5 103.6 78" fill="none" stroke="#26357a" stroke-width="1.5" stroke-linecap="round"/>
<path d="M153.6 50.4 C153.4 56 152.6 61 151 65.3 C149.8 68.5 148.3 72 147.7 78" fill="none" stroke="#26357a" stroke-width="1.5" stroke-linecap="round"/>
<rect x="94.2" y="50.54" width="2.6" height="2.4" fill="#222"/>
<rect x="152.5" y="48.66" width="2.6" height="2.4" fill="#222"/>
<rect x="122" y="40.8" width="6.6" height="2.6" rx="0.8" fill="#4a5058"/><path d="M125.8 39.4 L131.8 23.3 L138.8 23.3 L127.4 39.8 Z" fill="#5e301e"/><path d="M125.6 39.8 L126.6 37 L128 37.6 L126.8 39.9 Z" fill="#1a1a1a"/><path d="M137.5 23.3 L164.8 23.3 L164.8 36.2 L160 34.5 L154 31.5 L147 30 L141 27.5 Z" fill="#1e2578"/>

</g>
</g>
<rect x="85.3" y="23.3" width="79.5" height="53.8" fill="none" stroke="#1a1a1a" stroke-width="1.3"/>
<linearGradient id="bgb" x1="0" y1="0" x2="0" y2="1"><stop offset="0" stop-color="#9a9896"/><stop offset="0.34" stop-color="#cfcdcf"/><stop offset="0.36" stop-color="#dad8de"/><stop offset="1" stop-color="#e2e0e6"/></linearGradient>
<clipPath id="bxb"><rect x="317.2" y="23.3" width="81.5" height="53.6"/></clipPath>
<g clip-path="url(#bxb)">
<rect x="317.2" y="23.3" width="81.5" height="53.6" fill="url(#bgb)"/>
<g filter="url(#soft)">
<path d="M336.3 41.3 L378.9 41.3 L383.9 45.1 L331.3 45.1 Z" fill="#c6b97c"/>
<path d="M336.3 41.3 L378.9 41.3" stroke="#9c8e55" stroke-width="0.7"/>
<rect x="331.3" y="45.1" width="52.6" height="15.2" fill="url(#woodG)"/>
<rect x="331.3" y="44.8" width="52.6" height="0.7" fill="#a99b5d"/>
<rect x="331.3" y="59.3" width="52.6" height="1.0" fill="#8d7f47"/>
<line x1="331.3" y1="51.9" x2="383.9" y2="51.9" stroke="#9e8f55" stroke-width="0.6"/>
<rect x="340.9" y="50.3" width="7.2" height="1.6" fill="#66686c" stroke="#45474b" stroke-width="0.4"/>
<rect x="366.4" y="50.3" width="7.3" height="1.6" fill="#66686c" stroke="#45474b" stroke-width="0.4"/>
<path d="M329.7 50.4 C329.8 55 330.5 61 333 65.3 C335 68.8 337.2 72 338.3 78" fill="none" stroke="#26357a" stroke-width="1.5" stroke-linecap="round"/>
<path d="M385.6 49.6 C385.5 55 384.6 61 382.3 66.6 C380.8 70 378.6 73 377.7 78" fill="none" stroke="#26357a" stroke-width="1.5" stroke-linecap="round"/>
<rect x="329.1" y="49.28" width="2.6" height="2.4" fill="#222"/>
<rect x="383.5" y="47.57" width="2.6" height="2.4" fill="#222"/>
<rect x="354.4" y="39.4" width="7.7" height="3.3" rx="0.8" fill="#5a78ae"/><rect x="355" y="41.3" width="6.5" height="1.4" fill="#2c3440"/>

</g>
</g>
<rect x="317.2" y="23.3" width="81.5" height="53.6" fill="none" stroke="#1a1a1a" stroke-width="1.3"/>
<linearGradient id="bgc" x1="0" y1="0" x2="0" y2="1"><stop offset="0" stop-color="#a4a2a0"/><stop offset="0.36" stop-color="#cfcdcf"/><stop offset="0.38" stop-color="#dad8de"/><stop offset="1" stop-color="#e2e0e6"/></linearGradient>
<clipPath id="bxc"><rect x="546.3" y="23" width="81.5" height="55.2"/></clipPath>
<g clip-path="url(#bxc)">
<rect x="546.3" y="23" width="81.5" height="55.2" fill="url(#bgc)"/>
<g filter="url(#soft)">
<path d="M564 42.6 L608 42.6 L613 46.4 L559 46.4 Z" fill="#c6b97c"/>
<path d="M564 42.6 L608 42.6" stroke="#9c8e55" stroke-width="0.7"/>
<rect x="559" y="46.4" width="54" height="14.4" fill="url(#woodG)"/>
<rect x="559" y="46.1" width="54" height="0.7" fill="#a99b5d"/>
<rect x="559" y="59.8" width="54" height="1.0" fill="#8d7f47"/>
<line x1="559" y1="51.6" x2="613" y2="51.6" stroke="#9e8f55" stroke-width="0.6"/>
<rect x="568" y="49.9" width="8" height="1.7" fill="#66686c" stroke="#45474b" stroke-width="0.4"/>
<rect x="595" y="49.9" width="7.8" height="1.7" fill="#66686c" stroke="#45474b" stroke-width="0.4"/>
<path d="M557.1 51 C557 55 557.5 61 560.5 66.4 C562.3 69.8 563.6 73 564.3 79" fill="none" stroke="#26357a" stroke-width="1.5" stroke-linecap="round"/>
<path d="M614.9 49.2 C615 54 614.3 60.5 612.3 65.3 C610.6 69.5 608.3 73 606.4 79" fill="none" stroke="#26357a" stroke-width="1.5" stroke-linecap="round"/>
<rect x="556.8" y="50.24" width="2.6" height="2.4" fill="#222"/>
<rect x="612.6" y="48.61" width="2.6" height="2.4" fill="#222"/>
<path d="M571.5 26.9 L603.1 26.1 L609.2 39.8 L566.8 40.7 Z" fill="#dcdbe1" stroke="#c4c3c9" stroke-width="0.5"/><path d="M566.8 40.7 L609.2 39.8 L609 41.6 L567 42.3 Z" fill="#7e7e86"/><rect x="583" y="41.5" width="7" height="2" fill="#2a2a30"/>

</g>
</g>
<rect x="546.3" y="23" width="81.5" height="55.2" fill="none" stroke="#1a1a1a" stroke-width="1.3"/>
<clipPath id="hd"><rect x="89.7" y="201.2" width="71" height="49.6"/></clipPath>
<g clip-path="url(#hd)">
<rect x="89.7" y="201.2" width="71" height="49.6" fill="#fff"/>
<path d="M93.7 251 L93.1 235.9 L93.7 224.8 L94.9 217.3 L97.4 209.9 L99.9 205.2 L101.7 205.5 L101.1 212.4 L100.5 216.7 L102.4 219.2 L102.4 223.5 L103.6 227.3 L104.2 232.2 L103 237.2 L103.6 242.1 L104.9 251 Z" fill="#e6c09f" stroke="#9c765a" stroke-width="0.6"/>
<path d="M99.5 217 Q101.5 219 101 222 Q99 224 98 221" fill="none" stroke="#9c765a" stroke-width="0.5"/>
<path d="M123.5 251 L124.1 237.2 L125.9 232.2 L129.7 228.5 L134.6 224.8 L139.6 221.7 L147 218.6 L153.2 216.1 L157 214.6 L158.2 215.4 L156.3 217.3 L149.5 220.4 L147 222.9 L143.3 226 L138.3 231 L134 234.7 L132.8 236 L134 242.1 L135.9 251 Z" fill="#e6c09f" stroke="#9c765a" stroke-width="0.6"/>
<path d="M137 226 L148 220.5 M139 228 L150 222" fill="none" stroke="#9c765a" stroke-width="0.4"/>
<path d="M108.6 210.8 Q120 200.5 132.5 209.8" fill="none" stroke="url(#arrowG)" stroke-width="2.6" stroke-linecap="round"/>
<path d="M130.3 207.2 L137.3 212.9 L129.9 213.4 Z" fill="#e8502c"/>
</g>
<rect x="89.7" y="201.2" width="71" height="49.6" fill="none" stroke="#1a1a1a" stroke-width="1.3"/>
<clipPath id="he"><rect x="321.5" y="201.2" width="71.4" height="49.9"/></clipPath>
<g clip-path="url(#he)">
<rect x="321.5" y="201.2" width="71.4" height="49.9" fill="#fff"/>
<path d="M327.6 200 L325.7 209.4 L326.2 215.9 L328 223.4 L326.6 230.9 L327.6 239.3 L328.5 252 L336 252 L337.4 244 L338.8 237.5 L337.9 230 L338.3 222.5 L338.8 215 L338.3 208.4 L335.1 200 Z" fill="#e6c09f" stroke="#9c765a" stroke-width="0.6"/>
<path d="M329 223 L333.2 222.5 L335.1 228.1 L337.4 233.7 L336.9 239.3 L335.1 241.7 L332.2 237.5 L329.9 230 Z" fill="#efe5d7" stroke="#d9cfc2" stroke-width="0.5"/>
<path d="M333.2 209.4 Q334.5 215 335.1 220.6" fill="none" stroke="#9c765a" stroke-width="0.5"/>
<path d="M333.2 218.3 L343.5 215 L346.3 213.1 L349.1 213.1 L350.8 214.5 L349.1 216.4 L345.4 217.3 L339.7 219.7 L334.1 222 Z" fill="#e6c09f" stroke="#9c765a" stroke-width="0.6"/>
<path d="M338.3 233.3 Q344 229 345.8 222.5" fill="none" stroke="url(#arrowG2)" stroke-width="1.6" stroke-linecap="round"/>
<path d="M344.2 222.8 L345.8 219 L347.8 222.6 Z" fill="#e8502c"/>
<path d="M364 200 L364.6 209.9 L365.2 219.8 L364.6 227.3 L365.9 235.9 L366.5 252 L373.3 252 L375.8 242.1 L374.6 234.7 L375.8 226 L377 217.3 L375.8 208.6 L373.3 200 Z" fill="#e6c09f" stroke="#9c765a" stroke-width="0.6"/>
<path d="M368.3 219.8 L382 213.6 L388.8 213.2 L388.6 216.1 L382.6 218.6 L369.6 223.5 Z" fill="#efe5d7" stroke="#d9cfc2" stroke-width="0.5"/>
<path d="M371.9 208.4 L370.9 223.4 Q372 232 374.5 240.5 M365.8 227.2 Q370 233 371.5 240" fill="none" stroke="#9c765a" stroke-width="0.5"/>
<path d="M371 236 Q372 242.5 374.8 243.5 Q376.5 241 375.6 237" fill="#e6c09f" stroke="#9c765a" stroke-width="0.5"/>
<path d="M383.3 219.5 Q383 228 377.8 233.5" fill="none" stroke="url(#arrowG3)" stroke-width="1.6" stroke-linecap="round"/>
<path d="M379.5 231.5 L376.3 235.5 L376.2 230.8 Z" fill="#e8502c"/>
</g>
<rect x="321.5" y="201.2" width="71.4" height="49.9" fill="none" stroke="#1a1a1a" stroke-width="1.3"/>
<clipPath id="hf"><rect x="553.4" y="201.2" width="71" height="49.6"/></clipPath>
<g clip-path="url(#hf)">
<rect x="553.4" y="201.2" width="71" height="49.6" fill="#fff"/>
<path d="M576 228.5 L581 228.5 L580.4 236 L579.7 244.6 L585.3 247.1 L585.3 249.2 L575.4 249.2 L575.4 242.1 L574.8 234.7 Z" fill="#efe5d7" stroke="#d9cfc2" stroke-width="0.5"/>
<path d="M574.8 200 L584.7 200 L584.1 211.1 L582.2 219.8 L580.4 227.3 L577.9 229.5 L574.8 227.9 L569.8 221.7 L565.5 217.3 L561.1 219.2 L557.4 219.8 L556.8 218.6 L559.9 214.9 L562.4 210.5 L564.2 210.1 L566.7 212.4 L573.5 219.8 L574.8 217.3 L573.3 211.1 L574.2 207.4 Z" fill="#e6c09f" stroke="#9c765a" stroke-width="0.6"/>
<path d="M573.5 245.5 Q563 236 560.6 221.5" fill="none" stroke="url(#arrowG4)" stroke-width="1.3" stroke-linecap="round"/>
<path d="M558.8 222.3 L560.4 218.6 L562.2 222 Z" fill="#e8502c"/>
<path d="M607 217.3 L608.9 226 L607.7 228.5 L603.3 223.5 L598.3 217.9 L592.8 219.8 L591.5 218.6 L594.6 213.6 L596.5 210.1 L598.3 210.5 L600.8 213.6 L606.4 216.1 Z" fill="#efe5d7" stroke="#d9cfc2" stroke-width="0.5"/>
<path d="M607.7 200 L619.4 200 L618.8 211.1 L617.6 219.8 L616.3 229.7 L615.7 239.7 L616.3 245.9 L619.4 247.7 L619.6 249.2 L609.5 249.2 L609.5 244.6 L608.9 234.7 L608.3 226 L607 217.3 L606.8 211.1 Z" fill="#e6c09f" stroke="#9c765a" stroke-width="0.6"/>
<path d="M594.6 219.5 Q598 236 606.8 245.8" fill="none" stroke="url(#arrowG5)" stroke-width="1.3" stroke-linecap="round"/>
<path d="M604.6 245 L608.2 247.2 L606.8 243.3 Z" fill="#e8502c"/>
</g>
<rect x="553.4" y="201.2" width="71" height="49.6" fill="none" stroke="#1a1a1a" stroke-width="1.3"/>
<clipPath id="gp1"><rect x="53.1" y="382.9" width="31.5" height="35.8"/></clipPath>
<g clip-path="url(#gp1)">
<rect x="53.1" y="382.9" width="31.5" height="35.8" fill="url(#gloveBg)"/>
<g filter="url(#soft)"><path d="M56.3 419 L57.6 411 L58.5 402 L57.6 399.3 L56 394.5 L56.3 392.6 L57.4 392 L58.4 393 L59.6 396.2 L60.5 397.3 L60.6 390.5 L61.2 388 L62.3 387.2 L63.5 387.8 L64 389.5 L64.4 395.7 L65.7 396.2 L65.8 388.5 L66.4 386.2 L67.5 385.6 L68.7 386.3 L69.1 388 L68.9 395.3 L70.2 395.7 L70.8 390 L71.6 388 L72.9 387.6 L74 388.2 L74.4 390 L73.6 397.5 L74.7 401.2 L77 400 L79.3 398.9 L80.8 398.8 L81.6 400.3 L80.4 403.2 L78.5 405.8 L76 409 L73.8 412.8 L72.5 419 Z" fill="#2527b6"/>
<path d="M60 405 Q66 410 72 404" fill="none" stroke="#191b8c" stroke-width="0.8" opacity="0.6"/>
<g fill="#4b4b52" stroke="#8c8c94" stroke-width="0.3"><path d="M57.0 395.3 L59.4 394.9 L60.0 398.6 L58.0 399.2 Z"/><rect x="61.2" y="392.1" width="2.7" height="4.2"/><rect x="66.2" y="390.4" width="2.7" height="4.0"/><rect x="70.8" y="392.1" width="2.7" height="3.6"/><path d="M78.8 400.4 L81.2 400.2 L80.0 404.8 L78.2 404.2 Z"/></g></g>
</g>
<rect x="53.1" y="382.9" width="31.5" height="35.8" fill="none" stroke="#262626" stroke-width="1.3"/>
<clipPath id="gp2"><rect x="138.1" y="382.9" width="31.6" height="35.7"/></clipPath>
<g clip-path="url(#gp2)">
<rect x="138.1" y="382.9" width="31.6" height="35.7" fill="url(#gloveBg)"/>
<g filter="url(#soft)"><path d="M147.9 419 L145.9 412.9 L143.1 408.2 L142.3 403.4 L143.9 401.4 L149 401 L150.6 397.8 L151.4 390.7 L152.6 387.5 L154.6 386.7 L156.2 385.9 L158.2 386.3 L159.8 387.9 L161.3 389.9 L162.5 391.9 L163.3 396.3 L164.1 403.4 L163.3 411.3 L161.7 419 Z" fill="#2527b6"/>
<path d="M154.2 388 L154.6 400 M157.6 387.5 L157.8 400 M160.8 390 L160.8 400 M144 405 Q148 406.5 151 404" fill="none" stroke="#191b8c" stroke-width="0.6" opacity="0.8"/></g>
</g>
<rect x="138.1" y="382.9" width="31.6" height="35.7" fill="none" stroke="#262626" stroke-width="1.3"/>
<clipPath id="gp3"><rect x="221.9" y="382.9" width="31.8" height="35.7"/></clipPath>
<g clip-path="url(#gp3)">
<rect x="221.9" y="382.9" width="31.8" height="35.7" fill="url(#gloveBg)"/>
<g filter="url(#soft)"><path d="M229.9 419 L228.7 412.9 L225.5 406.6 L225.1 403.4 L227.1 400.2 L229.9 396.3 L232.3 395.1 L234.2 396.7 L234.6 388 L235 385.9 L236.6 385 L238.2 386.3 L238.6 397 L240.6 396 L241.4 389.1 L243 387.7 L244.6 389.1 L243.8 398.6 L245.2 396.5 L246.1 394.3 L247.7 393.1 L248.9 394.7 L246.5 401.8 L245.7 408.2 L242.6 419 Z" fill="#2527b6"/>
<path d="M225.9 400.8 L229.6 400.2 L229.9 403.2 L226.1 403.6 Z" fill="#4b4b52"/>
<path d="M230 398 Q232 397 233.5 399" fill="none" stroke="#191b8c" stroke-width="0.7"/></g>
</g>
<rect x="221.9" y="382.9" width="31.8" height="35.7" fill="none" stroke="#262626" stroke-width="1.3"/>
<clipPath id="gp4"><rect x="308.1" y="382.9" width="31.4" height="35.7"/></clipPath>
<g clip-path="url(#gp4)">
<rect x="308.1" y="382.9" width="31.4" height="35.7" fill="url(#gloveBg)"/>
<g filter="url(#soft)"><path d="M315.1 419 L313.1 409.7 L312.7 407.4 L313.9 405.4 L317.5 403.8 L317.9 393.9 L318.1 389.9 L319 389.1 L320.5 389.9 L322.6 399.4 L324.2 399.6 L325.4 389.9 L327 388.2 L328.4 389.1 L327.4 398.6 L328.6 398.6 L330.6 399 L331.3 401.8 L332.5 404.2 L332.1 406.6 L331.3 411.3 L329 419 Z" fill="#2527b6"/>
<g fill="#4b4b52" stroke="#8c8c94" stroke-width="0.3"><rect x="327.8" y="398.2" width="3.2" height="2.4"/><rect x="330.2" y="403" width="2.3" height="2.4"/><rect x="317.2" y="403.3" width="5" height="1.6"/></g></g>
</g>
<rect x="308.1" y="382.9" width="31.4" height="35.7" fill="none" stroke="#262626" stroke-width="1.3"/>
<clipPath id="gp5"><rect x="391.7" y="382.9" width="31.8" height="35.7"/></clipPath>
<g clip-path="url(#gp5)">
<rect x="391.7" y="382.9" width="31.8" height="35.7" fill="url(#gloveBg)"/>
<g filter="url(#soft)"><path d="M392.1 419 L392.1 405.8 L396.5 401.8 L400.1 396.3 L400.9 390.7 L402 386.7 L403.5 385.5 L404.8 387.1 L405.6 392.3 L406.4 397 L410 396.7 L414.7 397 L417.1 399 L417.9 403.4 L417.1 407.4 L415.5 411.3 L410.8 412.1 L406.8 414.5 L402 419 Z" fill="#2527b6"/>
<path d="M407 400.5 L416 401 M407 404 L416.5 404.5 M407 407.5 L415.5 408" fill="none" stroke="#191b8c" stroke-width="0.6"/>
<g fill="#4b4b52" stroke="#8c8c94" stroke-width="0.3"><rect x="415.2" y="399.2" width="2.4" height="3"/><rect x="415.3" y="403.2" width="2.4" height="3"/><rect x="414.2" y="407" width="2.4" height="3"/></g></g>
</g>
<rect x="391.7" y="382.9" width="31.8" height="35.7" fill="none" stroke="#262626" stroke-width="1.3"/>
</svg>
</body></html>
